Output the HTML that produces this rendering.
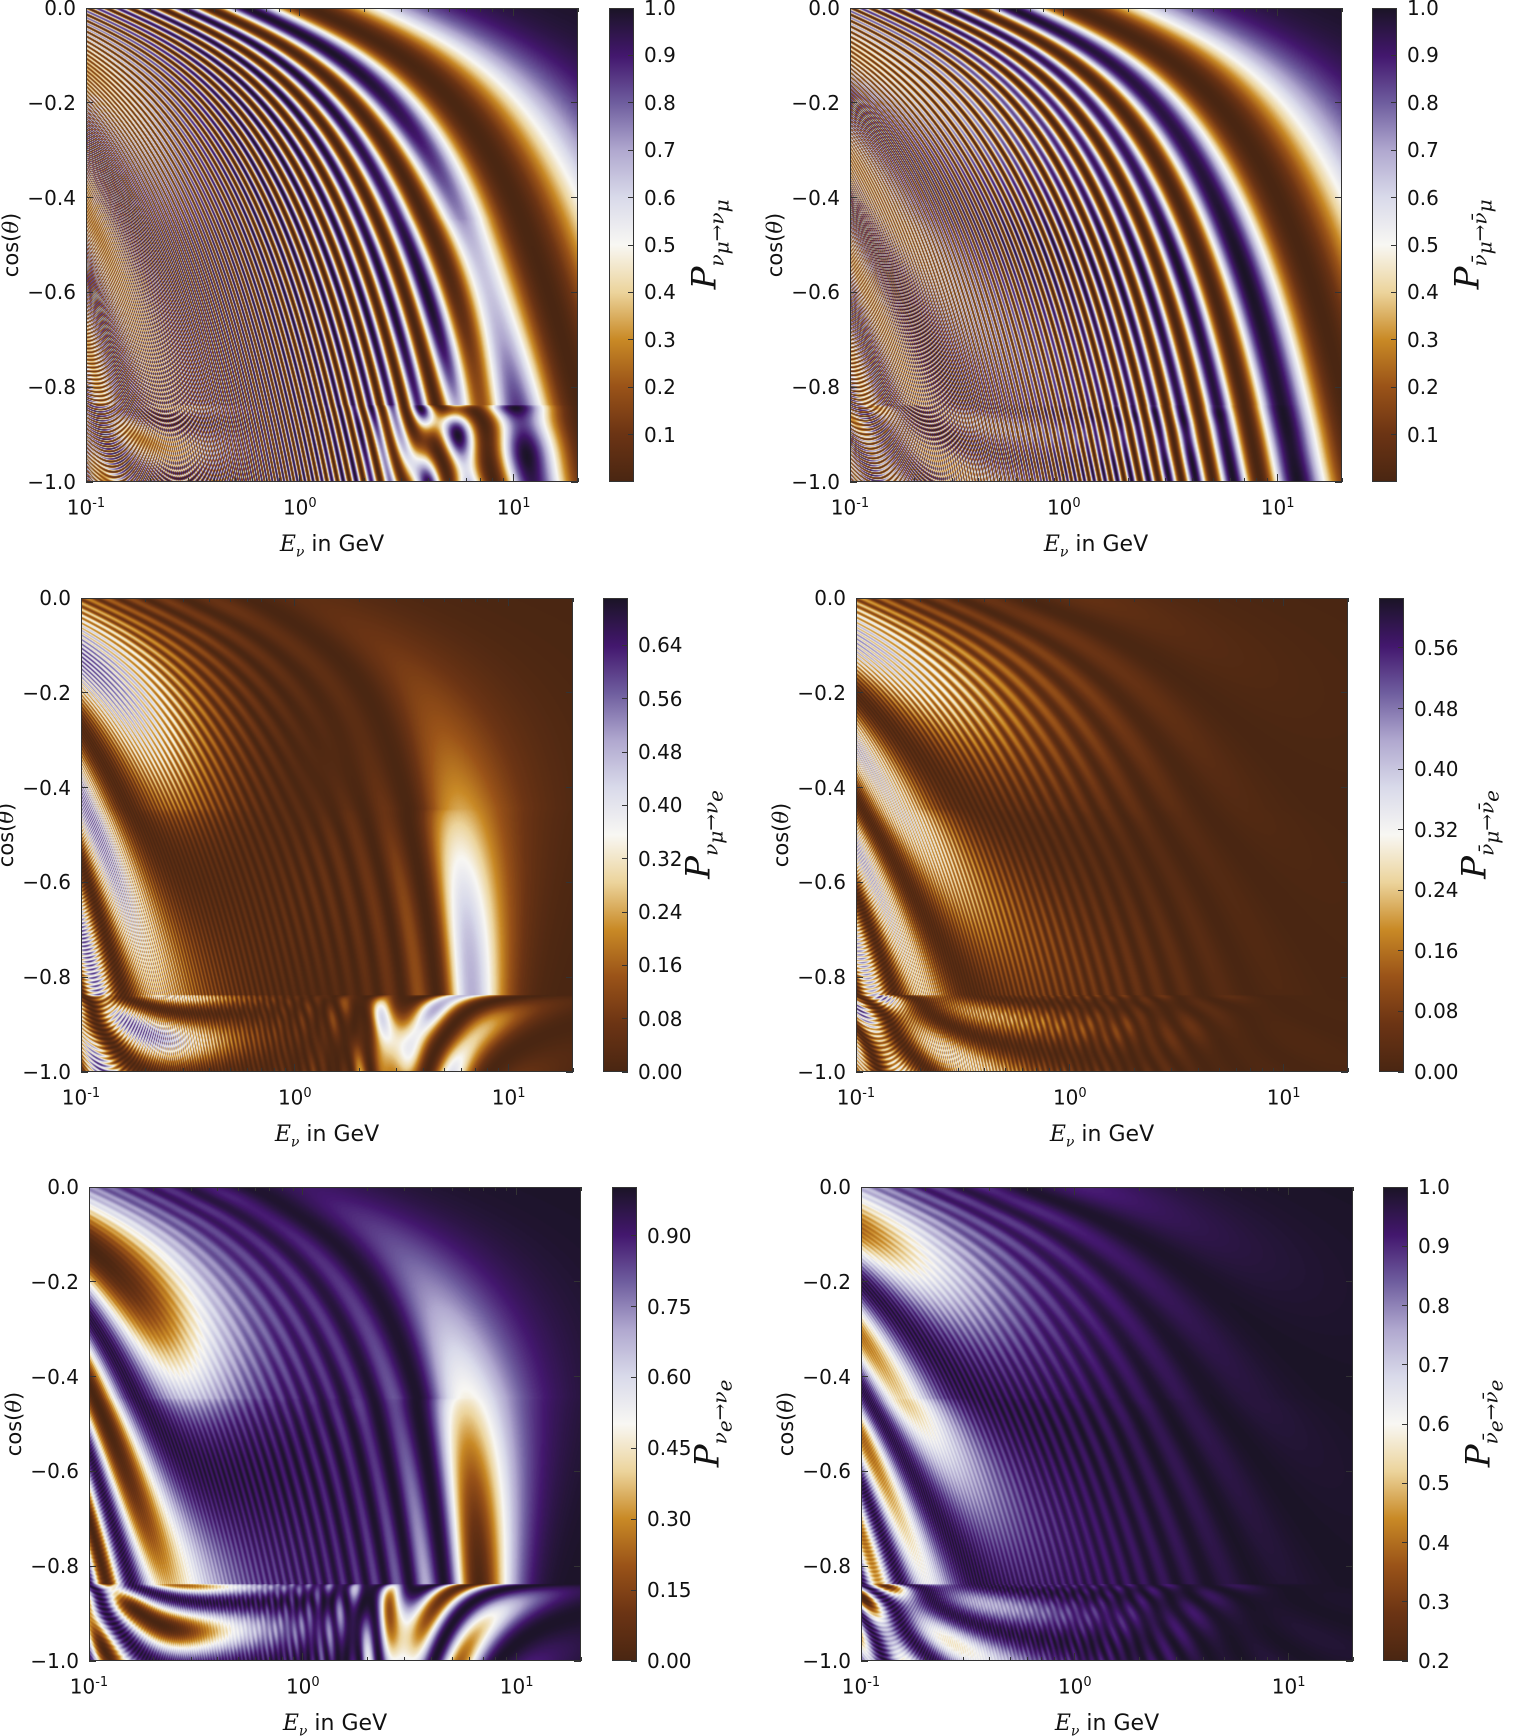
<!DOCTYPE html>
<html><head><meta charset="utf-8">
<style>
html,body{margin:0;padding:0;background:#fff;}
#root{position:relative;width:1518px;height:1736px;overflow:hidden;font-family:"DejaVu Sans","Liberation Sans",sans-serif;color:#111;}
.tick{position:absolute;font-size:20px;white-space:nowrap;line-height:1;}
.frame{position:absolute;border:1.5px solid #333;box-sizing:border-box;pointer-events:none;}
canvas{position:absolute;display:block;}
.mk{position:absolute;background:#333;}
.cblab{position:absolute;font-family:"DejaVu Serif","Liberation Serif",serif;font-style:italic;font-size:34px;white-space:nowrap;transform-origin:center center;}
.cblab sub{font-size:20px;}
.ylab{position:absolute;font-size:21px;white-space:nowrap;transform:rotate(-90deg);transform-origin:center center;}
.xlab{position:absolute;font-size:22px;white-space:nowrap;}
.xlab i{font-family:"DejaVu Serif","Liberation Serif",serif;}
</style></head>
<body>
<div id="root"></div>
<script>
// ---- axis / tick data ----
const E_MIN = 0.1, E_MAX = 20;
const X_TICKS = [0.1, 1, 10];
const X_TICK_EXP = ["-1", "0", "1"];
const Y_TICKS = [0, -0.2, -0.4, -0.6, -0.8, -1.0];
const Y_TICK_LABELS = ["0.0", "\u22120.2", "\u22120.4", "\u22120.6", "\u22120.8", "\u22121.0"];
const CB1_TICKS = [0.1,0.2,0.3,0.4,0.5,0.6,0.7,0.8,0.9,1.0];
const CB3_TICKS = [0.00,0.08,0.16,0.24,0.32,0.40,0.48,0.56,0.64];
const CB4_TICKS = [0.00,0.08,0.16,0.24,0.32,0.40,0.48,0.56];
const CB5_TICKS = [0.00,0.15,0.30,0.45,0.60,0.75,0.90];
const CB6_TICKS = [0.2,0.3,0.4,0.5,0.6,0.7,0.8,0.9,1.0];
const V_RANGES = [[0,1],[0,1],[0,0.711],[0,0.626],[0,1.003],[0.2,1.0]];
// oscillation parameters
const DM2 = [0, 7.5e-5, 2.5e-3];
const ANGLES_DEG = [33.6, 8.5, 45];
const DENSITIES = [0, 4.1, 4.6, 11.3];
const YE = [0.5, 0.5, 0.5, 0.47];

// ---- colormap ----
const CMAP = [[0,'#4a2612'],[0.1,'#6c3414'],[0.2,'#9a5318'],[0.3,'#c98a26'],[0.4,'#ecd49c'],[0.5,'#f8f7f3'],[0.6,'#d9daea'],[0.7,'#b0a8cf'],[0.8,'#6f5e9f'],[0.9,'#43176e'],[1,'#1b1427']];
function hex(h){return [parseInt(h.substr(1,2),16),parseInt(h.substr(3,2),16),parseInt(h.substr(5,2),16)];}
const LUT = new Uint8Array(256*3);
for(let k=0;k<256;k++){const t=k/255;let i=0;while(i<CMAP.length-2&&t>CMAP[i+1][0])i++;
 const a=CMAP[i],b=CMAP[i+1],f=(t-a[0])/(b[0]-a[0]);const ca=hex(a[1]),cb=hex(b[1]);
 for(let c=0;c<3;c++)LUT[k*3+c]=Math.round(ca[c]+(cb[c]-ca[c])*f);}

// ---- physics ----
const W=492,H=475;
const R=6371,RC=3480,RLM=5701,HATM=25;
function pmns(){const [t12,t13,t23]=ANGLES_DEG.map(d=>d*Math.PI/180);
 const s12=Math.sin(t12),c12=Math.cos(t12),s13=Math.sin(t13),c13=Math.cos(t13),s23=Math.sin(t23),c23=Math.cos(t23);
 return [[c12*c13,s12*c13,s13],[-s12*c23-c12*s23*s13,c12*c23-s12*s23*s13,s23*c13],[s12*s23-c12*c23*s13,-c12*s23-s12*c23*s13,c23*c13]];}
const U=pmns();
const M0=new Float64Array(9);
for(let a=0;a<3;a++)for(let b=0;b<3;b++){let s=0;for(let k=0;k<3;k++)s+=U[a][k]*DM2[k]*U[b][k];M0[a*3+b]=s;}
function eig3(A){const p1=A[1]*A[1]+A[2]*A[2]+A[5]*A[5];const q=(A[0]+A[4]+A[8])/3;
 const p2=(A[0]-q)**2+(A[4]-q)**2+(A[8]-q)**2+2*p1;const p=Math.sqrt(p2/6);
 const B=[];for(let i=0;i<9;i++)B[i]=(A[i]-((i%4===0)?q:0))/p;
 const det=B[0]*(B[4]*B[8]-B[5]*B[7])-B[1]*(B[3]*B[8]-B[5]*B[6])+B[2]*(B[3]*B[7]-B[4]*B[6]);
 let r=det/2;r=Math.max(-1,Math.min(1,r));const phi=Math.acos(r)/3;
 const e1=q+2*p*Math.cos(phi),e3=q+2*p*Math.cos(phi+2*Math.PI/3),e2=3*q-e1-e3;return [e1,e2,e3];}
function mm3(A,B){const C=new Float64Array(9);for(let i=0;i<3;i++)for(let j=0;j<3;j++){let s=0;for(let k=0;k<3;k++)s+=A[i*3+k]*B[k*3+j];C[i*3+j]=s;}return C;}
function projectors(A,l){const P=[];for(let j=0;j<3;j++){const k=(j+1)%3,m=(j+2)%3;
 const X=new Float64Array(9),Y=new Float64Array(9);for(let i=0;i<9;i++){X[i]=A[i]-(i%4===0?l[k]:0);Y[i]=A[i]-(i%4===0?l[m]:0);}
 const Z=mm3(X,Y),d=(l[j]-l[k])*(l[j]-l[m]);for(let i=0;i<9;i++)Z[i]/=d;P.push(Z);}return P;}
function layer(P,l,E,L,Or,Oi){for(let i=0;i<9;i++){Or[i]=0;Oi[i]=0;}
 for(let j=0;j<3;j++){const ph=2.534*l[j]*L/E,c=Math.cos(ph),s=-Math.sin(ph),Pj=P[j];
  for(let i=0;i<9;i++){Or[i]+=c*Pj[i];Oi[i]+=s*Pj[i];}}}
function cmul(Ar,Ai,Br,Bi,Cr,Ci){for(let i=0;i<3;i++)for(let j=0;j<3;j++){let sr=0,si=0;
 for(let k=0;k<3;k++){const ar=Ar[i*3+k],ai=Ai[i*3+k],br=Br[k*3+j],bi=Bi[k*3+j];sr+=ar*br-ai*bi;si+=ar*bi+ai*br;}
 Cr[i*3+j]=sr;Ci[i*3+j]=si;}}
function compute(anti){
 const mmA=new Float32Array(W*H),meA=new Float32Array(W*H),eeA=new Float32Array(W*H);
 const rows=[];
 for(let j=0;j<H;j++){const c=-(j+0.5)/H,s2=1-c*c,b2=R*R*s2;
  const air=c*R+Math.sqrt((R+HATM)**2-b2);const chord=-2*R*c;
  let segs=[];
  if(b2<RC*RC){const lc=2*Math.sqrt(RC*RC-b2),ll=2*Math.sqrt(RLM*RLM-b2),lu=(chord-ll)/2,lm=(ll-lc)/2;segs=[[0,air],[1,lu],[2,lm],[3,lc],[2,lm],[1,lu]];}
  else if(b2<RLM*RLM){const ll=2*Math.sqrt(RLM*RLM-b2),lu=(chord-ll)/2;segs=[[0,air],[1,lu],[2,ll],[1,lu]];}
  else segs=[[0,air],[1,chord]];
  rows.push(segs);}
 const Lr=new Float64Array(9),Li=new Float64Array(9),Sr=new Float64Array(9),Si=new Float64Array(9),Tr=new Float64Array(9),Ti=new Float64Array(9);
 const lx0=Math.log10(E_MIN),lx1=Math.log10(E_MAX);
 for(let i=0;i<W;i++){const E=Math.pow(10,lx0+(i+0.5)/W*(lx1-lx0));
  const dens=[];for(let d=0;d<DENSITIES.length;d++){const a=(anti?-1:1)*1.526e-4*DENSITIES[d]*YE[d]*E;
   const A=new Float64Array(M0);A[0]+=a;const l=eig3(A);dens.push([projectors(A,l),l]);}
  for(let j=0;j<H;j++){const segs=rows[j];
   layer(dens[segs[0][0]][0],dens[segs[0][0]][1],E,segs[0][1],Sr,Si);
   for(let k=1;k<segs.length;k++){const d=dens[segs[k][0]];layer(d[0],d[1],E,segs[k][1],Lr,Li);cmul(Lr,Li,Sr,Si,Tr,Ti);Sr.set(Tr);Si.set(Ti);}
   const idx=j*W+i;
   mmA[idx]=Sr[4]*Sr[4]+Si[4]*Si[4];meA[idx]=Sr[1]*Sr[1]+Si[1]*Si[1];eeA[idx]=Sr[0]*Sr[0]+Si[0]*Si[0];}}
 return {mm:mmA,me:meA,ee:eeA};}

// ---- layout ----
const root=document.getElementById('root');
const PANELS=[
 {x:86,y:8,cb:609,key:'mm',anti:false,ticks:CB1_TICKS,dec:1,lab:'\u03bd<sub>\u03bc</sub>\u2192\u03bd<sub>\u03bc</sub>',name:'numu-survival'},
 {x:850,y:8,cb:1372,key:'mm',anti:true,ticks:CB1_TICKS,dec:1,lab:'\u03bd\u0304<sub>\u03bc</sub>\u2192\u03bd\u0304<sub>\u03bc</sub>',name:'antinumu-survival'},
 {x:81,y:598,cb:603,key:'me',anti:false,ticks:CB3_TICKS,dec:2,lab:'\u03bd<sub>\u03bc</sub>\u2192\u03bd<sub>e</sub>',name:'numu-to-nue'},
 {x:856,y:598,cb:1379,key:'me',anti:true,ticks:CB4_TICKS,dec:2,lab:'\u03bd\u0304<sub>\u03bc</sub>\u2192\u03bd\u0304<sub>e</sub>',name:'antinumu-to-antinue'},
 {x:89,y:1187,cb:612,key:'ee',anti:false,ticks:CB5_TICKS,dec:2,lab:'\u03bd<sub>e</sub>\u2192\u03bd<sub>e</sub>',name:'nue-survival'},
 {x:861,y:1187,cb:1383,key:'ee',anti:true,ticks:CB6_TICKS,dec:1,lab:'\u03bd\u0304<sub>e</sub>\u2192\u03bd\u0304<sub>e</sub>',name:'antinue-survival'}];
const PW=492,PH=474,CBW=25;
const lx0=Math.log10(E_MIN),lx1=Math.log10(E_MAX);
function xs(p,e){return p.x+(Math.log10(e)-lx0)/(lx1-lx0)*PW;}
function ys(p,c){return p.y+(-c)*PH;}
function el(tag,cls,css,html){const d=document.createElement(tag);if(cls)d.className=cls;Object.assign(d.style,css);if(html!==undefined)d.innerHTML=html;root.appendChild(d);return d;}

const results={nu:compute(false),anu:compute(true)};

PANELS.forEach((p,pi)=>{
 const [vmin,vmax]=V_RANGES[pi];
 const data=results[p.anti?'anu':'nu'][p.key];
 const cv=document.createElement('canvas');cv.width=W;cv.height=H;
 cv.style.left=p.x+'px';cv.style.top=p.y+'px';cv.style.width=PW+'px';cv.style.height=PH+'px';
 
 
 root.appendChild(cv);
 const ctx=cv.getContext('2d'),img=ctx.createImageData(W,H);
 for(let k=0;k<W*H;k++){let t=(data[k]-vmin)/(vmax-vmin);t=t<0?0:t>1?1:t;const q=Math.round(t*255)*3;
  img.data[k*4]=LUT[q];img.data[k*4+1]=LUT[q+1];img.data[k*4+2]=LUT[q+2];img.data[k*4+3]=255;}
 ctx.putImageData(img,0,0);
 const fr=el('div','frame',{left:p.x+'px',top:p.y+'px',width:PW+'px',height:PH+'px'});
 
 
 Y_TICKS.forEach((c,k)=>{const y=ys(p,c);
  const t=el('div','tick',{left:(p.x-90)+'px',top:(y-10)+'px',width:'80px',textAlign:'right'},Y_TICK_LABELS[k]);
  
  
  el('div','mk',{left:p.x+'px',top:(y-0.5)+'px',width:'7px',height:'1px'});
  el('div','mk',{left:(p.x+PW-7)+'px',top:(y-0.5)+'px',width:'7px',height:'1px'});});
 X_TICKS.forEach((e,k)=>{const x=xs(p,e);
  const t=el('div','tick',{left:(x-30)+'px',top:(p.y+PH+15)+'px',width:'60px',textAlign:'center'},'10<sup style="font-size:13px">'+X_TICK_EXP[k]+'</sup>');
  
  
  el('div','mk',{left:(x-0.5)+'px',top:(p.y+PH-8)+'px',width:'1px',height:'8px'});
  el('div','mk',{left:(x-0.5)+'px',top:p.y+'px',width:'1px',height:'8px'});});
 for(let dec=-1;dec<=1;dec++)for(let m=2;m<=9;m++){const e=m*Math.pow(10,dec);if(e>E_MAX)continue;const x=xs(p,e);
  el('div','mk',{left:(x-0.5)+'px',top:(p.y+PH-4)+'px',width:'1px',height:'4px'});
  el('div','mk',{left:(x-0.5)+'px',top:p.y+'px',width:'1px',height:'4px'});}
 const yl=el('div','ylab',{left:(p.x-130)+'px',top:(p.y+PH/2-12)+'px',width:'110px',textAlign:'center'},'cos(<i style="font-family:DejaVu Serif,serif">\u03b8</i>)');
 
 
 const xl=el('div','xlab',{left:(p.x+PW/2-100)+'px',top:(p.y+PH+50)+'px',width:'200px',textAlign:'center'},'<i>E<sub style="font-size:14px">\u03bd</sub></i> in GeV');
 
 
 const cb=el('div','',{position:'absolute',left:p.cb+'px',top:p.y+'px',width:CBW+'px',height:PH+'px',border:'1.5px solid #333',boxSizing:'border-box',
  background:'linear-gradient(to top,'+CMAP.map(s=>s[1]+' '+(s[0]*100)+'%').join(',')+')'});
 
 
 p.ticks.forEach(v=>{const y=p.y+PH-(v-vmin)/(vmax-vmin)*PH;
  el('div','mk',{left:(p.cb+CBW-6)+'px',top:(y-0.5)+'px',width:'6px',height:'1px'});
  const t=el('div','tick',{left:(p.cb+CBW+10)+'px',top:(y-10)+'px'},v.toFixed(p.dec));
  
  });
 const lb=el('div','cblab',{left:(p.cb+CBW+75-100)+'px',top:(p.y+PH/2-25)+'px',width:'200px',textAlign:'center',transform:'rotate(-90deg)'},'P<sub>'+p.lab+'</sub>');
 
 
});
</script>
</body></html>
